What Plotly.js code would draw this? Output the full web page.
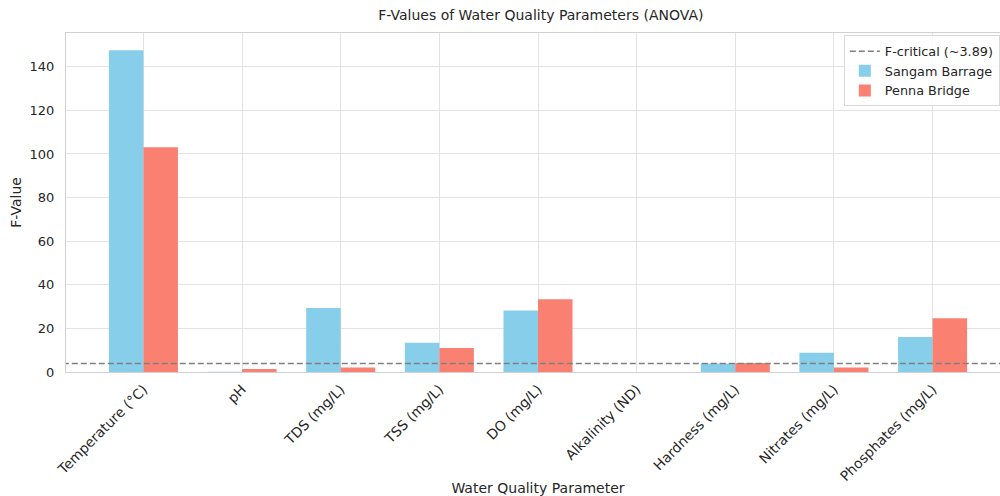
<!DOCTYPE html>
<html><head><meta charset="utf-8">
<script src="https://cdn.plot.ly/plotly-3.0.1.min.js"></script>
<style>html,body{margin:0;padding:0;overflow:hidden;background:#fff;width:1000px;height:496px}#chart{width:1012px;height:496px}</style>
</head><body><div id="chart"></div>
<script>
const categories = ["Temperature (°C)", "pH", "TDS (mg/L)", "TSS (mg/L)", "DO (mg/L)", "Alkalinity (ND)", "Hardness (mg/L)", "Nitrates (mg/L)", "Phosphates (mg/L)"];
const sangamBarrage = [147.6, 0.1, 29.4, 13.4, 28.2, 0, 3.9, 8.8, 16.0];
const pennaBridge = [103.1, 1.4, 2.1, 11.0, 33.4, 0, 4.1, 2.1, 24.7];
const fCritical = 3.89;

const idx = categories.map((c, i) => i);
const traces = [
  {type: 'scatter', mode: 'lines', name: 'F-critical (~3.89)', x: [-1, categories.length + 1], y: [fCritical, fCritical],
   line: {color: '#808080', width: 1.6, dash: '6px,3px'}, hoverinfo: 'skip'},
  {type: 'bar', name: 'Sangam Barrage', x: idx, y: sangamBarrage, marker: {color: '#87CEEB'}},
  {type: 'bar', name: 'Penna Bridge', x: idx, y: pennaBridge, marker: {color: '#FA8072'}}
];
const layout = {
  width: 1012, height: 496,
  margin: {l: 66, r: 2, t: 33, b: 124},
  paper_bgcolor: '#fff', plot_bgcolor: '#fff',
  font: {family: 'DejaVu Sans, sans-serif', size: 12, color: '#262626'},
  title: {text: 'F-Values of Water Quality Parameters (ANOVA)', font: {size: 14, color: '#262626'}, xref: 'paper', x: 0.503, xanchor: 'center', yref: 'container', y: 0.97, yanchor: 'middle'},
  barmode: 'group', bargap: 0.3, bargroupgap: 0,
  showlegend: true,
  legend: {x: 0.824, xanchor: 'left', y: 0.993, yanchor: 'top', bgcolor: 'rgba(255,255,255,0.85)', bordercolor: '#d9d9d9', borderwidth: 1, font: {size: 12.8, color: '#262626'}, tracegroupgap: 0},
  xaxis: {
    range: [-0.785, categories.length - 1 + 0.785],
    tickmode: 'array', tickvals: idx, ticktext: categories, tickangle: -45,
    showgrid: true, gridcolor: '#e3e3e3', gridwidth: 1,
    showline: true, linecolor: '#d0d0d0', linewidth: 1, mirror: true,
    zeroline: false, ticks: '', tickfont: {size: 13.8}, ticklabelstandoff: 3,
    title: {text: 'Water Quality Parameter', font: {size: 14}, standoff: 6},
    automargin: false
  },
  yaxis: {
    range: [0, 155.5],
    tickvals: [0, 20, 40, 60, 80, 100, 120, 140],
    showgrid: true, gridcolor: '#e3e3e3', gridwidth: 1,
    showline: true, linecolor: '#d0d0d0', linewidth: 1, mirror: true,
    zeroline: false, ticks: '', ticklen: 0, tickfont: {size: 13}, ticklabelstandoff: 8,
    title: {text: 'F-Value', font: {size: 14}, standoff: 4},
    automargin: false
  }
};
Plotly.newPlot('chart', traces, layout, {displayModeBar: false, staticPlot: true});
</script></body></html>
